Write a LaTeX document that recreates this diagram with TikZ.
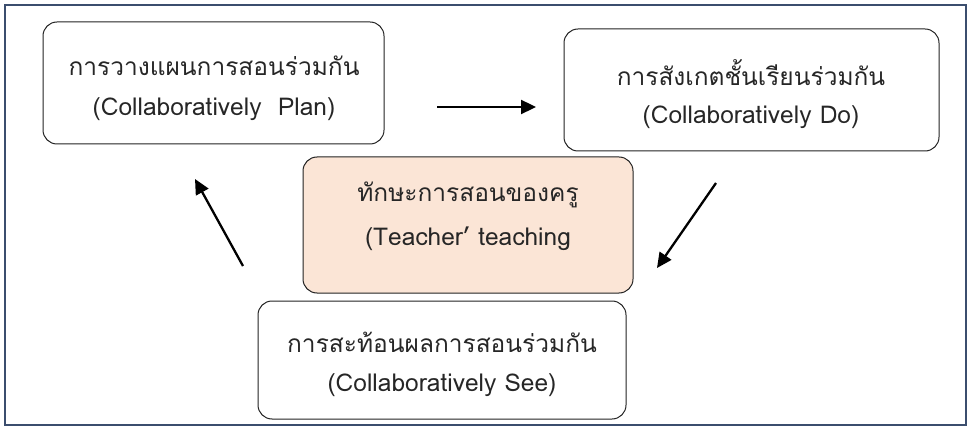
\documentclass[tikz,border=0pt]{standalone}
\usepackage{fontspec}
\setmainfont[Script=Thai]{Loma}
\usetikzlibrary{arrows.meta}
\definecolor{frame}{HTML}{3B4E6E}
\definecolor{peach}{HTML}{FBE5D6}
\definecolor{edge}{HTML}{222222}
\begin{document}
\begin{tikzpicture}[x=1pt,y=-1pt,
  box/.style={draw=edge,line width=1pt,rounded corners=14pt},
  lbl/.style={font=\fontsize{24.5}{28}\selectfont,text=black!85,align=center},
  arr/.style={line width=2.3pt,-{Triangle[length=15pt,width=14pt]}}]
\useasboundingbox (0,0) rectangle (971,430);
\draw[frame,line width=2pt] (5,5) rectangle (966,425);
\draw[box] (43,22) rectangle (384,144);
\node[lbl] (p1) at (214,66) {การวางแผนการสอนร่วมกัน};
\node[lbl] (p2) at (214,109) {(Collaboratively\ \ Plan)};
\draw[box] (564,29) rectangle (939,151);
\node[lbl] (d1) at (751,73) {การสังเกตชั้นเรียนร่วมกัน};
\node[lbl] (d2) at (751,117) {(Collaboratively Do)};
\draw[box,fill=peach] (303,157) rectangle (633,293);
\node[lbl] (t1) at (468,195) {ทักษะการสอนของครู};
\node[lbl] (t2) at (468,239) {(Teacher’ teaching};
\draw[box] (258,301) rectangle (626,419);
\node[lbl] (s1) at (442,342) {การสะท้อนผลการสอนร่วมกัน};
\node[lbl] (s2) at (442,385) {(Collaboratively See)};
\coordinate (a1s) at (437,107); \coordinate (a1e) at (536,107);
\coordinate (a2s) at (716,183); \coordinate (a2e) at (657,268);
\coordinate (a3s) at (243,266); \coordinate (a3e) at (195,179);
\draw[arr] (a1s) -- (a1e);
\draw[arr] (a2s) -- (a2e);
\draw[arr] (a3s) -- (a3e);
\end{tikzpicture}
\end{document}
